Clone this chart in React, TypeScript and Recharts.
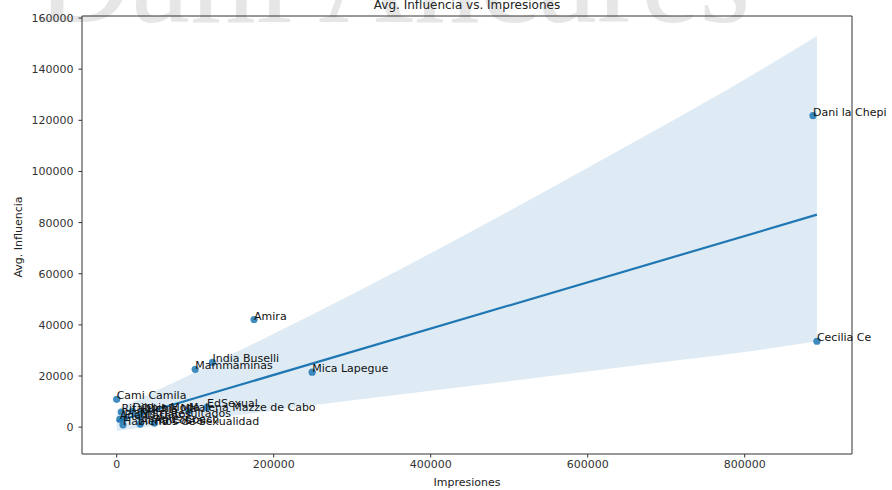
import React from 'react';
import { ComposedChart, Scatter, Line, Area, XAxis, YAxis, ReferenceArea } from 'recharts';

const names = [
  'Dani la Chepi', 'Cecilia Ce', 'Amira', 'India Buselli', 'Mammaminas', 'Mica Lapegue',
  'Cami Camila', 'EdSexual', 'Malena Mazze de Cabo', 'Rita Pichis', 'Dibbis Moda', 'Puchis Ma',
  'Nutri Resultados', 'Pichis Datos', 'Ana Casas', 'Hablemos de Sexualidad', 'Alma Costa', 'Agus Coach',
];
const impresiones = [
  887000, 892000, 175000, 122000, 100000, 249000,
  0, 115000, 92000, 6000, 20000, 32000,
  30000, 10000, 4000, 8000, 30000, 48000,
];
const influencia = [
  121800, 33600, 42100, 25300, 22600, 21500,
  10900, 7700, 6300, 5900, 6200, 6000,
  4000, 3600, 3100, 900, 1200, 1600,
];

const fitX = [0, 892000];
const fitY = [2300, 83100];

const bandX = [0, 100000, 200000, 300000, 400000, 500000, 600000, 700000, 800000, 892000];
const bandLow = [-1500, 2500, 6500, 10500, 14200, 18000, 21800, 25600, 29400, 33600];
const bandHigh = [6800, 21500, 36500, 52000, 68000, 84500, 101500, 118500, 136000, 153000];

const xTicks = [0, 200000, 400000, 600000, 800000];
const yTicks = [0, 20000, 40000, 60000, 80000, 100000, 120000, 140000, 160000];

const points = names.map((n, i) => ({ name: n, x: impresiones[i], y: influencia[i] }));
const fitData = fitX.map((x, i) => ({ x, y: fitY[i] }));
const bandData = bandX.map((x, i) => ({ x, range: [bandLow[i], bandHigh[i]] }));

const FONT = '"DejaVu Sans", sans-serif';
const BLUE = '#1f77b4';

const Dot = (p: any) => <circle cx={p.cx} cy={p.cy} r={3.6} fill={BLUE} fillOpacity={0.85} />;
const Lbl = (p: any) => (
  <text x={p.cx} y={p.cy} fontSize={11} fontFamily={FONT} fill="#111">{p.payload.name}</text>
);

export default function App() {
  return (
    <div style={{ position: 'absolute', left: 0, top: 0, width: 892, height: 490, background: '#fff' }}>
      <svg width={892} height={490} style={{ position: 'absolute', left: 0, top: 0 }}>
        <text x={36} y={22} fontSize={132} fontFamily='"Liberation Serif", serif' fill="#e6e6e6">Dani Ancares</text>
        <text x={467} y={9} textAnchor="middle" fontSize={12} fontFamily={FONT} fill="#222">Avg. Influencia vs. Impresiones</text>
        <text x={467} y={486} textAnchor="middle" fontSize={11} fontFamily={FONT} fill="#222">Impresiones</text>
        <text x={22} y={237} textAnchor="middle" fontSize={11} fontFamily={FONT} fill="#222" transform="rotate(-90 22 237)">Avg. Influencia</text>
      </svg>
      <div style={{ position: 'absolute', left: 0, top: 0 }}>
        <ComposedChart width={892} height={490} margin={{ top: 16, right: 40, bottom: 0, left: 0 }}>
          <XAxis
            type="number"
            dataKey="x"
            domain={[-44200, 936700]}
            ticks={xTicks}
            axisLine={false}
            tickSize={3.5}
            tickMargin={3}
            height={36}
            tick={{ fontSize: 11, fill: '#333', fontFamily: FONT }}
            tickLine={{ stroke: '#333' }}
            tickFormatter={(v: number) => String(v)}
          />
          <YAxis
            type="number"
            domain={[-10500, 160800]}
            ticks={yTicks}
            axisLine={false}
            tickSize={3.5}
            tickMargin={5}
            width={82}
            tick={{ fontSize: 11, fill: '#333', fontFamily: FONT }}
            tickLine={{ stroke: '#333' }}
            tickFormatter={(v: number) => String(v)}
          />
          <Area data={bandData} dataKey="range" type="monotone" stroke="none" fill={BLUE} fillOpacity={0.15} isAnimationActive={false} />
          <Scatter data={points} dataKey="y" shape={Dot} isAnimationActive={false} />
          <Line data={fitData} dataKey="y" type="linear" stroke={BLUE} strokeWidth={2.2} dot={false} isAnimationActive={false} />
          <Scatter data={points} dataKey="y" shape={Lbl} isAnimationActive={false} />
          <ReferenceArea x1={-44200} x2={936700} y1={-10500} y2={160800} fill="none" stroke="#333" strokeWidth={1} />
        </ComposedChart>
      </div>
    </div>
  );
}
